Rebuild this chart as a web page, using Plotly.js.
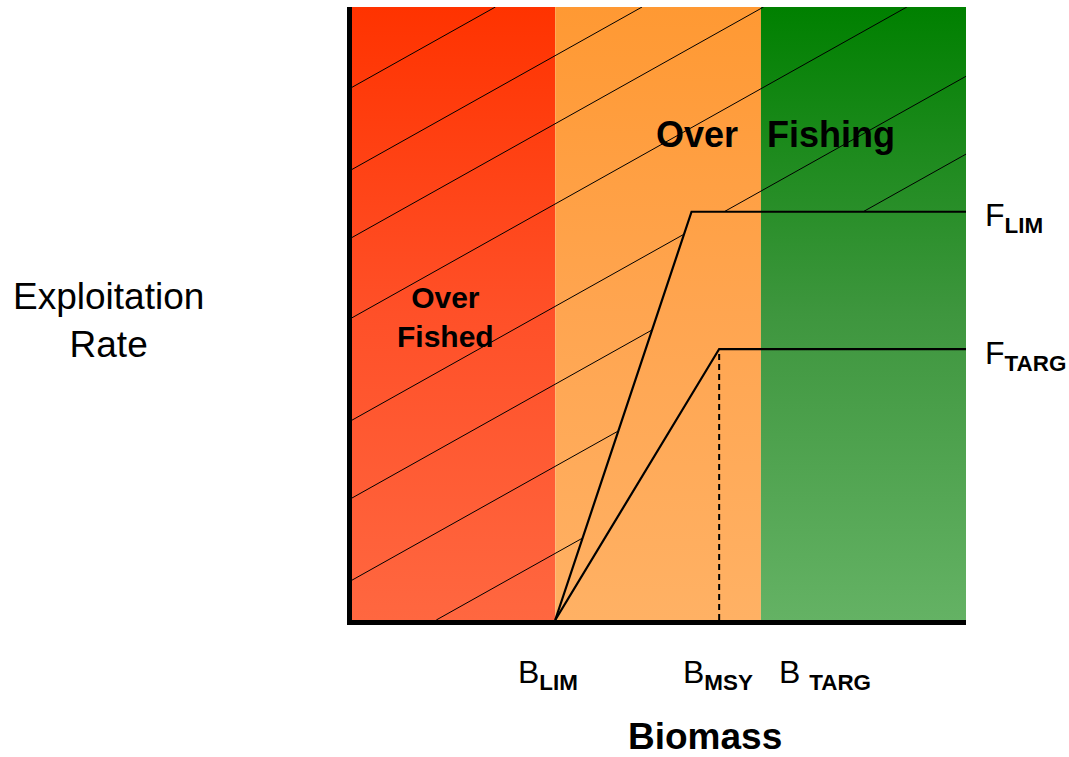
<!DOCTYPE html>
<html>
<head>
<meta charset="utf-8">
<script src="https://cdn.plot.ly/plotly-3.0.1.min.js"></script>
<style>html,body{margin:0;padding:0;background:#fff;}#chart{width:1069px;height:757px;}</style>
</head>
<body>
<div id="chart"></div>
<script>
// ---- data ----
const zoneEdges = [0, 33.1, 66.6, 100];           // biomass zone boundaries (red | orange | green)
const biomassRefNames = ['LIM', 'MSY', 'TARG'];
const biomassRefs = [33.1, 59.8, 66.6];           // B_LIM, B_MSY, B_TARG
const fRefNames = ['LIM', 'TARG'];
const fRefs = [66.6, 44.2];                       // F_LIM, F_TARG
const fLimCurveX = [33.1, 55.3, 100];
const fLimCurveY = [0, 66.6, 66.6];
const fTargCurveX = [33.1, 59.8, 100];
const fTargCurveY = [0, 44.2, 44.2];
const hatchIntercepts = [86.9, 73.5, 62.4, 49.3, 32.6, 19.9, 6.5, -7.7];
const hatchSlope = 0.561;

// ---- colours ----
const zoneGradients = [
  [[0, 'rgb(255,103,64)'], [0.5, 'rgb(255,80,40)'], [1, 'rgb(255,51,0)']],
  [[0, 'rgb(255,177,100)'], [0.5, 'rgb(255,165,80)'], [1, 'rgb(255,153,51)']],
  [[0, 'rgb(100,178,100)'], [0.5, 'rgb(62,150,62)'], [1, 'rgb(0,128,0)']]
];

const FONT = 'Liberation Sans, Arial, sans-serif';

function curveAt(X, Y, x) {
  if (x <= X[0]) return Y[0];
  for (let i = 0; i < X.length - 1; i++) {
    if (x <= X[i + 1]) return Y[i] + (Y[i + 1] - Y[i]) * (x - X[i]) / (X[i + 1] - X[i]);
  }
  return Y[Y.length - 1];
}

// clip hatch line y = b + s*x to the region above the F_LIM curve inside the frame
function hatchSegments(b, s) {
  const pts = [0, 100, (100 - b) / s, -b / s].concat(fLimCurveX);
  const px = [-1e6].concat(fLimCurveX), py = [fLimCurveY[0]].concat(fLimCurveY);
  px.push(1e6); py.push(fLimCurveY[fLimCurveY.length - 1]);
  for (let i = 0; i < px.length - 1; i++) {
    const m = (py[i + 1] - py[i]) / (px[i + 1] - px[i]);
    if (Math.abs(s - m) > 1e-9) pts.push((py[i] - m * px[i] - b) / (s - m));
  }
  const xs = pts.filter(v => v >= 0 && v <= 100).sort((a, c) => a - c);
  const segs = [];
  let cur = null;
  for (let i = 0; i < xs.length - 1; i++) {
    const a = xs[i], c = xs[i + 1];
    if (c - a < 1e-9) continue;
    const mid = (a + c) / 2, y = b + s * mid;
    const ok = y <= 100 && y >= curveAt(fLimCurveX, fLimCurveY, mid);
    if (ok) { if (cur) cur[1] = c; else cur = [a, c]; }
    else if (cur) { segs.push(cur); cur = null; }
  }
  if (cur) segs.push(cur);
  return segs;
}

const traces = [];
for (let i = 0; i < 3; i++) {
  const x0 = zoneEdges[i], x1 = zoneEdges[i + 1];
  traces.push({
    type: 'scatter', mode: 'lines', x: [x0, x1, x1, x0, x0], y: [0, 0, 100, 100, 0],
    fill: 'toself', line: {width: 0, color: 'rgba(0,0,0,0)'},
    fillgradient: {type: 'vertical', start: 0, stop: 100, colorscale: zoneGradients[i]},
    hoverinfo: 'skip', showlegend: false
  });
}
const hx = [], hy = [];
hatchIntercepts.forEach(b => {
  hatchSegments(b, hatchSlope).forEach(sg => {
    hx.push(sg[0], sg[1], null);
    hy.push(b + hatchSlope * sg[0], b + hatchSlope * sg[1], null);
  });
});
traces.push({type: 'scatter', mode: 'lines', x: hx, y: hy, connectgaps: false,
  line: {color: 'black', width: 1}, hoverinfo: 'skip', showlegend: false});
traces.push({type: 'scatter', mode: 'lines', x: fLimCurveX, y: fLimCurveY,
  line: {color: 'black', width: 2.2}, hoverinfo: 'skip', showlegend: false});
traces.push({type: 'scatter', mode: 'lines', x: fTargCurveX, y: fTargCurveY,
  line: {color: 'black', width: 2.2}, hoverinfo: 'skip', showlegend: false});
traces.push({type: 'scatter', mode: 'lines', x: [biomassRefs[1], biomassRefs[1]], y: [0, fRefs[1]],
  line: {color: 'black', width: 2, dash: '6px,4px'}, hoverinfo: 'skip', showlegend: false});

const annotations = [];
// B labels
const bShift = [-7, -1.5, 16];
biomassRefs.forEach((v, i) => {
  const sp = biomassRefNames[i] === 'TARG' ? ' ' : '';
  annotations.push({
    x: v, xref: 'x', y: 0, yref: 'paper',
    xanchor: i === 2 ? 'left' : 'center', yanchor: 'top',
    xshift: bShift[i], yshift: -32,
    text: 'B' + sp + '<sub><b>' + biomassRefNames[i] + '</b></sub>',
    showarrow: false, font: {family: FONT, size: 32, color: 'black'}
  });
});
// F labels
fRefs.forEach((v, i) => {
  annotations.push({
    x: 1, xref: 'paper', y: v, yref: 'y', xanchor: 'left', yanchor: 'middle',
    xshift: 17, yshift: -6,
    text: 'F<sub><b>' + fRefNames[i] + '</b></sub>',
    showarrow: false, font: {family: FONT, size: 32, color: 'black'}
  });
});
annotations.push({x: 56.2, y: 79.2, xref: 'x', yref: 'y', text: '<b>Over</b>', showarrow: false,
  xanchor: 'center', yanchor: 'middle', font: {family: FONT, size: 36, color: 'black'}});
annotations.push({x: 78.0, y: 79.2, xref: 'x', yref: 'y', text: '<b>Fishing</b>', showarrow: false,
  xanchor: 'center', yanchor: 'middle', font: {family: FONT, size: 36, color: 'black'}});
annotations.push({x: 15.3, y: 49.4, xref: 'x', yref: 'y', text: '<b>Over<br>Fished</b>', showarrow: false,
  xanchor: 'center', yanchor: 'middle', font: {family: FONT, size: 30, color: 'black'}});
annotations.push({x: -0.396, y: 0.488, xref: 'paper', yref: 'paper', text: 'Exploitation<br>Rate', showarrow: false,
  xanchor: 'center', yanchor: 'middle', font: {family: FONT, size: 37, color: 'black'}});
annotations.push({x: 0.575, y: -0.19, xref: 'paper', yref: 'paper', text: '<b>Biomass</b>', showarrow: false,
  xanchor: 'center', yanchor: 'middle', font: {family: FONT, size: 37, color: 'black'}});

const axisCommon = {range: [0, 100], showgrid: false, zeroline: false, showticklabels: false,
  ticks: '', showline: true, linewidth: 5, linecolor: 'black', fixedrange: true};
const layout = {
  width: 1069, height: 757,
  margin: {l: 352, r: 103, t: 7, b: 137},
  paper_bgcolor: 'white', plot_bgcolor: 'white',
  xaxis: Object.assign({}, axisCommon),
  yaxis: Object.assign({}, axisCommon),
  showlegend: false, hovermode: false,
  annotations: annotations
};
Plotly.newPlot('chart', traces, layout, {staticPlot: true, displayModeBar: false});
</script>
</body>
</html>
